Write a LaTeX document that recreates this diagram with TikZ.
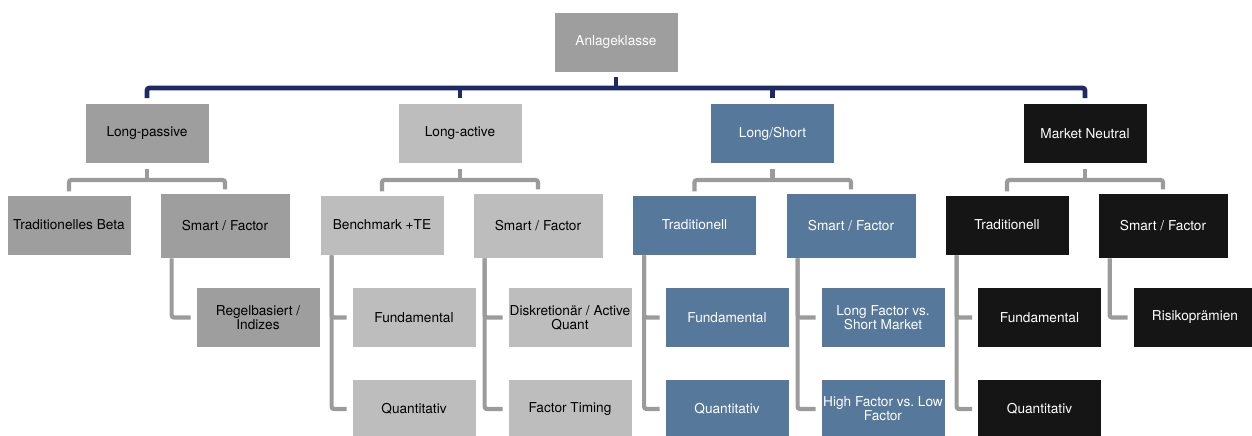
\documentclass[tikz,border=0pt]{standalone}
\usepackage{fontspec}
\setmainfont{TeX Gyre Heros}
\usepackage{tikz}
\usetikzlibrary{calc}
\definecolor{klgrayd}{RGB}{158,158,158}
\definecolor{klgrayl}{RGB}{189,189,189}
\definecolor{klblue}{RGB}{86,120,155}
\definecolor{klblack}{RGB}{21,21,21}
\definecolor{klnavy}{RGB}{30,42,102}
\definecolor{kllinegray}{RGB}{155,155,155}
\newcommand\klfont{\fontsize{9.7}{10}\selectfont\frenchspacing}
\tikzset{
  klbase/.style={font=\klfont, x=0.025cm, y=-0.025cm},
  klbox/.style={rectangle, minimum width=3.1cm, minimum height=1.5cm, inner sep=1pt, align=center, draw=white, line width=.5pt},
  klwide/.style={klbox, minimum width=3.25cm, minimum height=1.625cm},
  klroot/.style={klbox, fill=klgrayd, text=white},
  klpassive/.style={fill=klgrayd, text=black},
  klactive/.style={fill=klgrayl, text=black},
  klshort/.style={fill=klblue, text=white},
  klneutral/.style={fill=klblack, text=white},
  klbus/.style={draw=klnavy, line width=3.4pt, rounded corners=0.06cm},
  kllink/.style={draw=kllinegray, line width=3pt, rounded corners=0.06cm}
}

\begin{document}
\begin{tikzpicture}[klbase]
\useasboundingbox (0,0) rectangle (1252,435);
% top level
\node[klroot] (root) at (616,42) {Anlageklasse};
\node[klbox,klpassive] (lp) at (147,133.5) {Long-passive};
\node[klbox,klactive] (la) at (460,133.5) {Long-active};
\node[klbox,klshort] (ls) at (772.5,133.5) {Long/Short};
\node[klbox,klneutral] (mn) at (1085,133.5) {Market Neutral};
% second level
\node[klbox,klpassive] (tb) at (69,225) {Traditionelles Beta};
\node[klwide,klpassive] (sf1) at (225,225.5) {Smart / Factor};
\node[klbox,klactive] (bm) at (382,225) {Benchmark +TE};
\node[klwide,klactive] (sf2) at (538,225.5) {Smart / Factor};
\node[klbox,klshort] (tr3) at (694.5,225) {Traditionell};
\node[klwide,klshort] (sf3) at (851,225.5) {Smart / Factor};
\node[klbox,klneutral] (tr4) at (1007,225) {Traditionell};
\node[klwide,klneutral] (sf4) at (1163,225.5) {Smart / Factor};
% third level
\node[klbox,klpassive] (rg) at (258,317.5) {Regelbasiert /\\Indizes};
\node[klbox,klactive] (fu2) at (414,317.5) {Fundamental};
\node[klbox,klactive] (qu2) at (414,409) {Quantitativ};
\node[klbox,klactive] (dk) at (570,317.5) {Diskretionär / Active\\Quant};
\node[klbox,klactive] (ft) at (570,409) {Factor Timing};
\node[klbox,klshort] (fu3) at (727,317.5) {Fundamental};
\node[klbox,klshort] (qu3) at (727,409) {Quantitativ};
\node[klbox,klshort] (lf) at (883,317.5) {Long Factor vs.\\Short Market};
\node[klbox,klshort] (hf) at (883,409) {High Factor vs. Low\\Factor};
\node[klbox,klneutral] (fu4) at (1039.5,317.5) {Fundamental};
\node[klbox,klneutral] (qu4) at (1039.5,409) {Quantitativ};
\node[klbox,klneutral] (rp) at (1195,317.5) {Risikoprämien};
% blue bus
\coordinate (bus) at (616,88);
\draw[klbus,shorten <=0.125cm,shorten >=0.125cm] (lp.north) |- (bus) -| (mn.north);
\draw[klbus,shorten <=0.125cm] (root.south) -- (bus);
\foreach \g in {la,ls}
  \draw[klbus,shorten <=0.125cm] (\g.north) -- (\g.north |- bus);
% gray branches
\foreach \p/\l/\r in {lp/tb/sf1,la/bm/sf2,ls/tr3/sf3,mn/tr4/sf4} {
  \draw[kllink,shorten <=0.125cm] (\p.south) -- (\p.south |- 0,180);
  \draw[kllink,shorten <=0.08cm,shorten >=0.08cm] (\l.north) |- (\p.south |- 0,180) -| (\r.north);
}
\foreach \p/\c in {sf1/rg,bm/fu2,bm/qu2,sf2/dk,sf2/ft,tr3/fu3,tr3/qu3,sf3/lf,sf3/hf,tr4/fu4,tr4/qu4,sf4/rp}
  \draw[kllink,shorten >=0.125cm] ($(\p.south west)+(12,0)$) |- (\c.west);
\end{tikzpicture}
\end{document}
